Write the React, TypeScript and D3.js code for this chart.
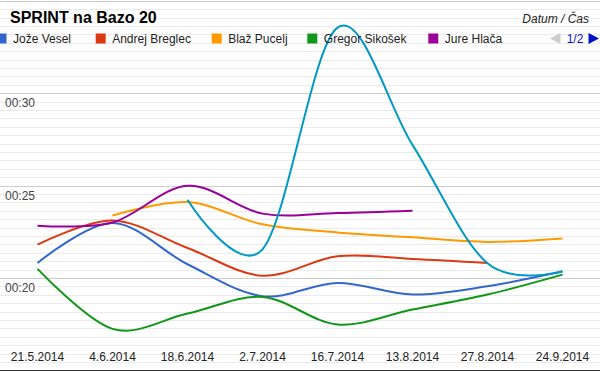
import React from 'react';
import * as d3 from 'd3';

const W = 600;
const H = 371;

const dates = ['21.5.2014', '4.6.2014', '18.6.2014', '2.7.2014', '16.7.2014', '13.8.2014', '27.8.2014', '24.9.2014'];

// times in seconds (00:ss), null = no race
const jozeVesel = [20.81, 22.97, 20.74, 19.01, 19.73, 19.1, 19.55, 20.36];
const andrejBreglec = [21.8, 23.11, 21.62, 20.12, 21.17, 21.03, 20.81, null];
const blazPucelj = [null, 23.38, 24.11, 22.9, 22.46, 22.2, 21.95, 22.14];
const gregorSikosek = [20.49, 17.24, 18.07, 18.97, 17.48, 18.29, 19.1, 20.18];
const jureHlaca = [22.83, 23.0, 24.99, 23.48, 23.51, 23.64, null, null];
const page2Series = [null, null, 24.23, 21.55, 33.55, 27.2, 20.79, 20.34];

const seriesNames = ['Jože Vesel', 'Andrej Breglec', 'Blaž Pucelj', 'Gregor Sikošek', 'Jure Hlača'];
const colors = ['#3366cc', '#dc3912', '#ff9900', '#109618', '#990099', '#0099c6'];
const yTicks = [15, 20, 25, 30, 35];
const yTickLabels = ['00:15', '00:20', '00:25', '00:30', '00:35'];

const allSeries = [jozeVesel, andrejBreglec, blazPucelj, gregorSikosek, jureHlaca, page2Series];

const font = 'Arial, "Liberation Sans", sans-serif';

export default function App() {
  const x = d3.scalePoint<string>().domain(dates).range([0, W]).padding(0.5);
  const y = d3.scaleLinear().domain([15, 35]).range([370.3, 0.8]);

  const minor = d3.range(0, 44).map(i => 15 + (i * 5) / 11).filter((v, i) => i % 11 !== 0);

  const line = d3.line<number | null>()
    .defined(d => d != null)
    .x((d, i) => x(dates[i]) as number)
    .y(d => y(d as number))
    .curve(d3.curveCardinal.tension(0));

  // legend layout
  const legendX = [-3.5, 95.7, 211.7, 307.3, 428.3];

  return (
    <div style={{ position: 'absolute', left: 0, top: 0 }}>
      <svg width={W} height={H} style={{ display: 'block', fontFamily: font }}>
        <rect width={W} height={H} fill="#fff" />
        {minor.map((v, i) => (
          <line key={'m' + i} x1={0} x2={W} y1={Math.round(y(v)) + 0.5} y2={Math.round(y(v)) + 0.5} stroke="#ebebeb" />
        ))}
        {yTicks.map(v => (
          <line key={'g' + v} x1={0} x2={W} y1={Math.round(y(v)) + 0.5} y2={Math.round(y(v)) + 0.5}
            stroke={v === 15 ? '#333' : '#cccccc'} />
        ))}
        {yTicks.map((v, i) => (v === 15 || v === 35) ? null : (
          <text key={'yl' + v} x={5} y={y(v) + 14} fontSize={12} fill="#444">{yTickLabels[i]}</text>
        ))}
        {dates.map(d => (
          <text key={d} x={x(d)} y={361} fontSize={12} fill="#222" textAnchor="middle">{d}</text>
        ))}
        {allSeries.map((s, i) => (
          <path key={'s' + i} d={line(s) || ''} fill="none" stroke={colors[i]} strokeWidth={2} />
        ))}
        <text x={10} y={23} fontSize={16} fontWeight="bold" fill="#000">SPRINT na Bazo 20</text>
        <text x={589} y={23} fontSize={12} fontStyle="italic" fill="#222" textAnchor="end">Datum / Čas</text>
        {seriesNames.map((n, i) => (
          <g key={n}>
            <rect x={legendX[i]} y={33.5} width={10} height={10} fill={colors[i]} />
            <text x={legendX[i] + 16.5} y={43} fontSize={12} fill="#222">{n}</text>
          </g>
        ))}
        <path d="M550,38.5 L560.5,33 L560.5,44 Z" fill="#cccccc" />
        <text x={575} y={43} fontSize={12} fill="#0011cc" textAnchor="middle">1/2</text>
        <path d="M599,38.5 L588.5,33 L588.5,44 Z" fill="#0011cc" />
      </svg>
    </div>
  );
}
